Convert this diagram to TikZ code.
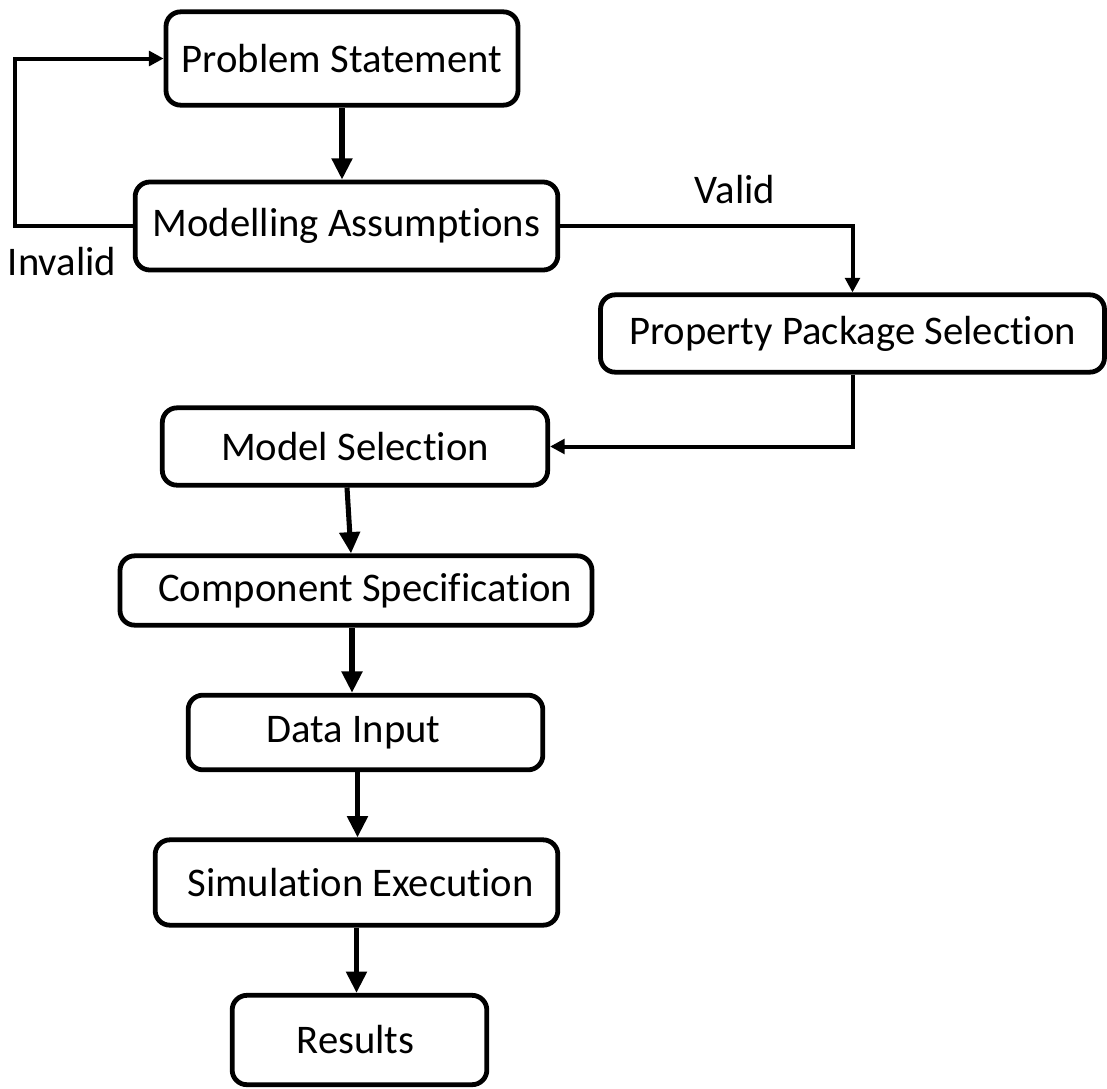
\documentclass[tikz,border=0pt]{standalone}
\usepackage{fontspec}
\setmainfont{Carlito}[Ligatures=NoCommon]
\usetikzlibrary{arrows.meta}
\begin{document}
\begin{tikzpicture}[x=0.75pt,y=-0.75pt,
  box/.style={draw, line width=3.6pt, rounded corners=11pt, inner sep=0pt, font=\fontsize{30.5}{34}\selectfont},
  flow/.style={line width=3.8pt, -{Triangle[length=16pt,width=15pt]}},
  side/.style={line width=3pt, -{Triangle[length=11pt,width=11pt]}},
  lbl/.style={font=\fontsize{30.5}{34}\selectfont}]
\useasboundingbox (0,0) rectangle (1107,1089);
\node[box, minimum width=264pt, minimum height=70pt] (PS) at (342,58.5) {Problem Statement};
\node[box, minimum width=317pt, minimum height=66pt] (MA) at (346.5,226) {Modelling Assumptions};
\node[box, minimum width=378pt, minimum height=58pt] (PPS) at (852.5,333.5) {Property Package Selection};
\node[box, minimum width=289pt, minimum height=58pt] (MS) at (355,446.5) {Model Selection};
\node[box, minimum width=354pt, minimum height=52pt] (CS) at (356,590.5) {\kern14pt Component Specification};
\node[box, minimum width=266pt, minimum height=56pt] (DI) at (365.5,732.5) {\kern-18pt Data Input};
\node[box, minimum width=302pt, minimum height=64pt] (SE) at (356.5,882.5) {\kern6pt Simulation Execution};
\node[box, minimum width=191pt, minimum height=67pt] (R) at (359.5,1040) {\kern-6pt Results};
\coordinate (L) at (15,0);
\node[lbl] (inv) at (62,262) {Invalid};
\node[lbl] (val) at (735,190) {Valid};
\draw[flow] (PS.south) -- (PS.south |- MA.north);
\draw[side] (MA.west) -- (MA.west -| L) -- (PS.west -| L) -- (PS.west);
\draw[side] (MA.east) -| (PPS.north);
\draw[side] (PPS.south) |- (MS.east);
\draw[flow] ([xshift=-6pt]MS.south) -- ([xshift=-3pt]MS.south |- CS.north);
\draw[flow] ([xshift=-3pt]CS.south) -- ([xshift=-3pt]CS.south |- DI.north);
\draw[flow] ([xshift=-6pt]DI.south) -- ([xshift=-6pt]DI.south |- SE.north);
\draw[flow] (SE.south) -- (SE.south |- R.north);
\end{tikzpicture}
\end{document}
